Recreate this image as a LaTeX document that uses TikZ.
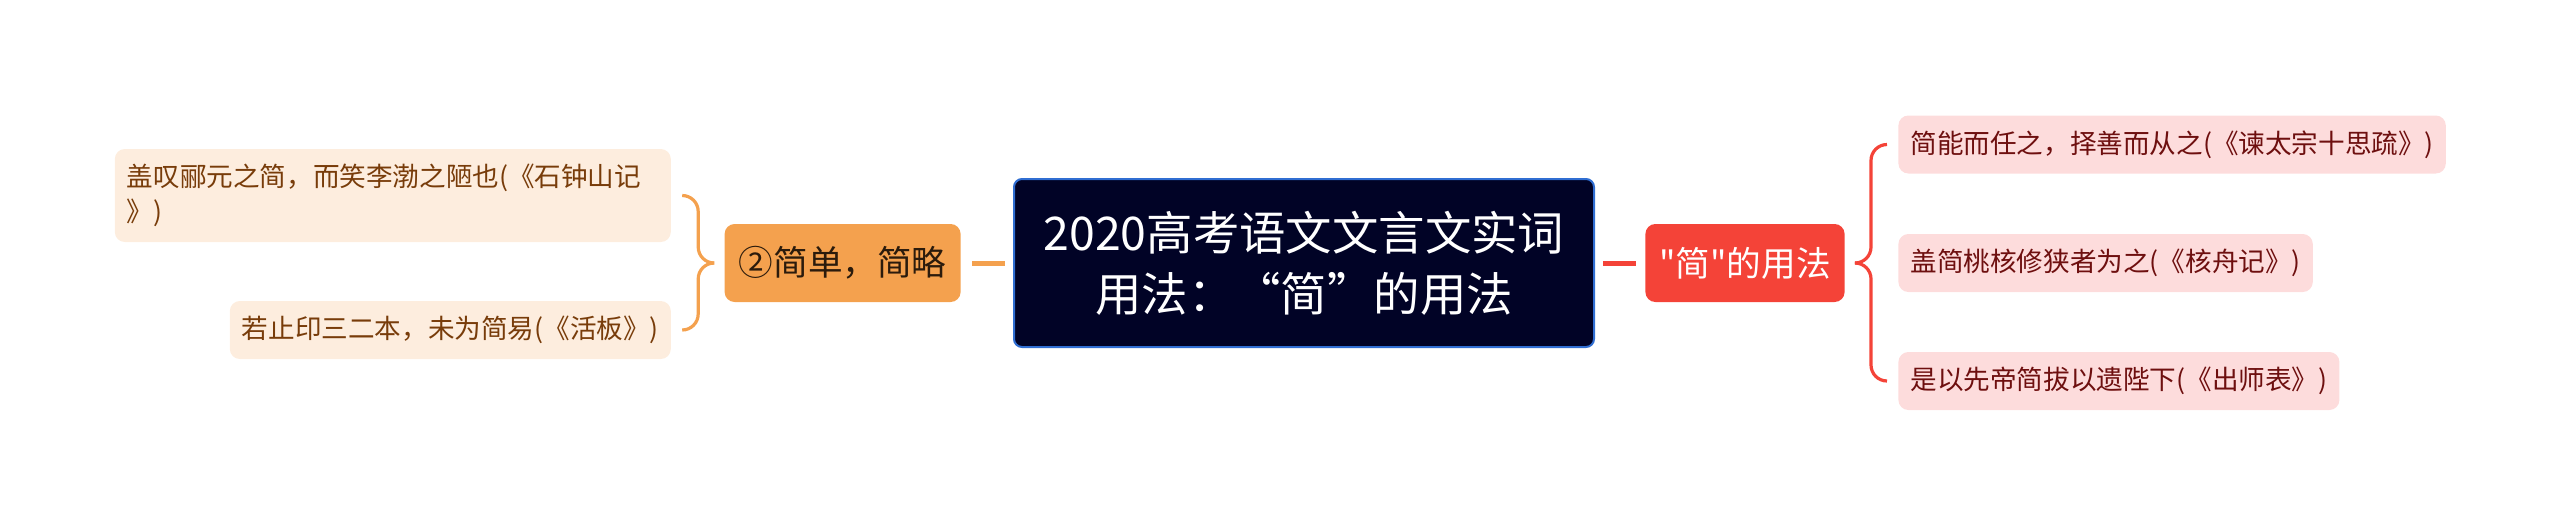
\documentclass[tikz,border=0pt]{standalone}
\usepackage{fontspec}
\setmainfont{Noto Sans CJK SC}[Ligatures=TeXOff]
\usepackage{xcolor}
\usetikzlibrary{positioning}
\definecolor{rootbg}{RGB}{1,3,38}
\definecolor{rootln}{RGB}{48,110,210}
\definecolor{orng}{RGB}{244,161,78}
\definecolor{rd}{RGB}{244,67,56}
\definecolor{lfill}{RGB}{253,237,222}
\definecolor{ltext}{RGB}{120,60,10}
\definecolor{rfill}{RGB}{253,220,220}
\definecolor{rtext}{RGB}{110,15,15}

\begin{document}
\begin{tikzpicture}[%
  x=1pt,y=1pt,%
  rootbox/.style={fill=rootbg,draw=rootln,line width=1pt,rounded corners=4pt,text=white,align=center,%
    minimum width=290pt,minimum height=84pt,font=\fontsize{23.2}{30.5}\selectfont},%
  mid/.style={rounded corners=5pt,minimum height=39pt,inner xsep=7pt,font=\fontsize{17.3}{20}\selectfont},%
  leaf/.style={rounded corners=5pt,minimum height=29pt,inner xsep=6pt,align=left,font=\fontsize{13.3}{17.5}\selectfont},%
  lleaf/.style={leaf,fill=lfill,text=ltext},%
  rleaf/.style={leaf,fill=rfill,text=rtext},%
  conn/.style={line width=2.5pt},%
  brace/.style={line width=1.6pt,rounded corners=8pt}%
  ]
  \useasboundingbox (0,0) rectangle (1280,-263);
  \node (root) [rootbox] at (652,-131.5) {2020高考语文文言文实词\\用法：“简”的用法};
%
  \node (l) [mid,fill=orng,text={rgb,255:red,43;green,27;blue,12},minimum width=118pt,left=26pt of root] {②简单，简略};
  \node (r) [mid,fill=rd,text=white,minimum width=99.5pt,right=25pt of root] {"简"的用法};
%
  \node (l-1) [lleaf,text width=266pt,minimum height=46.5pt,left=26.5pt of l.west,yshift=33.75pt] {盖叹郦元之简，而笑李渤之陋也(《石钟山记\\》)};
  \node (l-2) [lleaf,left=26.5pt of l.west,yshift=-33.5pt] {若止印三二本，未为简易(《活板》)};
%
  \node (r-1) [rleaf,right=26.5pt of r.east,yshift=59.25pt] {简能而任之，择善而从之(《谏太宗十思疏》)};
  \node (r-2) [rleaf,right=26.5pt of r.east] {盖简桃核修狭者为之(《核舟记》)};
  \node (r-3) [rleaf,right=26.5pt of r.east,yshift=-59pt] {是以先帝简拔以遗陛下(《出师表》)};
%
  \draw[conn,orng,shorten <=5.5pt,shorten >=4pt] (l) -- (root);
  \draw[conn,rd,shorten <=4pt,shorten >=4.5pt] (root) -- (r);
%
  \coordinate (l-tip) at ([xshift=-5pt]l.west);
  \draw[brace,orng] (l-tip) -- ++(-8,0) |- ([xshift=5.5pt]l-1.east);
  \draw[brace,orng] (l-tip) -- ++(-8,0) |- ([xshift=5.5pt]l-2.east);
%
  \coordinate (r-tip) at ([xshift=5.5pt]r.east);
  \draw[brace,rd] (r-tip) -- ++(7.5,0) |- ([xshift=-5.5pt]r-1.west);
  \draw[brace,rd] (r-tip) -- ++(7.5,0) |- ([xshift=-5.5pt]r-3.west);
%
\end{tikzpicture}
\end{document}
